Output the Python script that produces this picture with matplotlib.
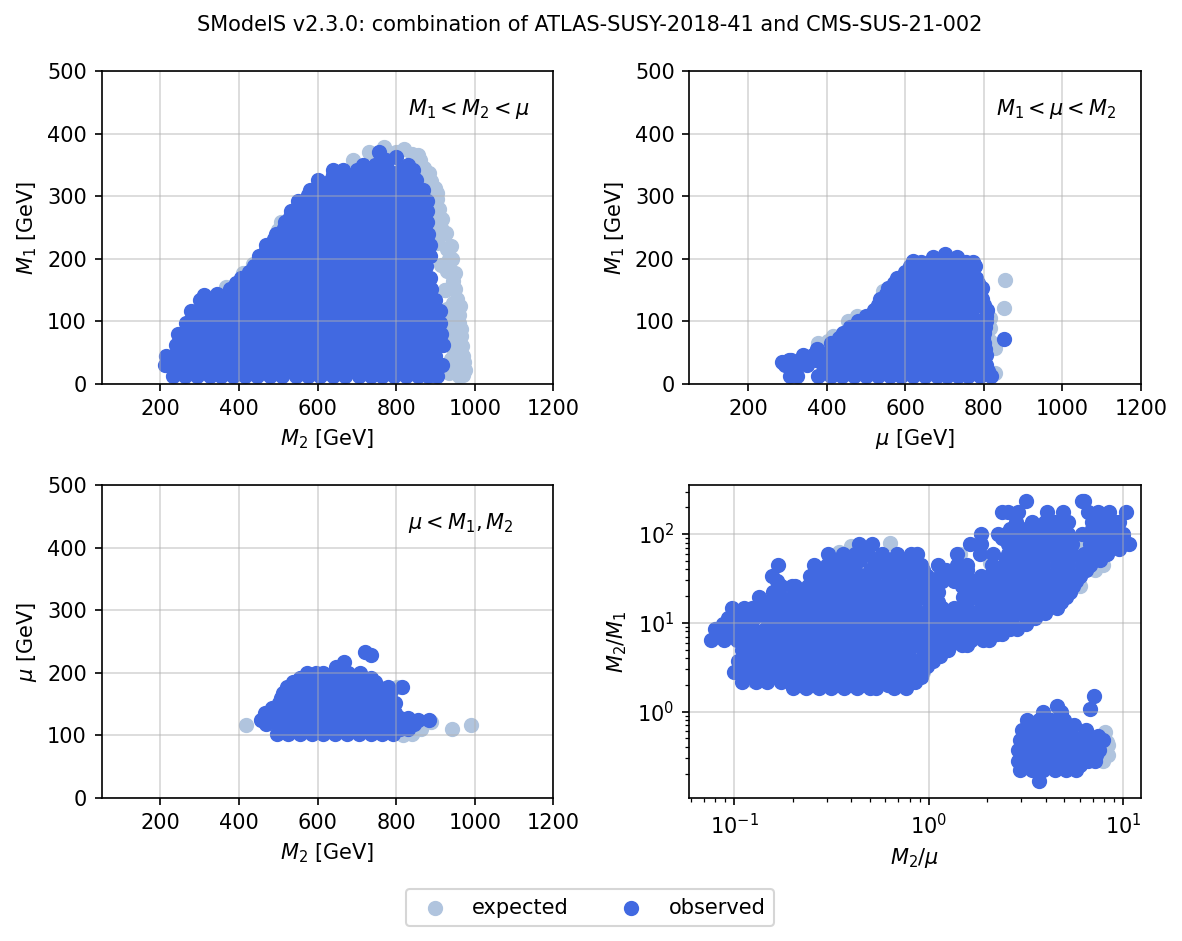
import matplotlib
matplotlib.use("Agg")
import matplotlib.pyplot as plt

TITLE = "SModelS v2.3.0: combination of ATLAS-SUSY-2018-41 and CMS-SUS-21-002"
LABELS = ["expected", "observed"]

# Panel A: M2 (x) against M1 (y), read row by row
a_obs_y = [12, 30, 45, 62, 80, 98, 116, 134, 152, 170, 188, 205, 222, 240, 258, 276, 293, 310, 326, 342, 350,
           21, 38, 54, 71, 89, 107, 125, 143, 161, 179, 196, 214, 231, 249, 267, 285, 302, 318, 334]
a_obs_x = [
    [232, 262, 292, 325, 355, 385, 415, 445, 478, 510, 545, 575, 605, 640, 670, 705, 735, 765, 795, 825, 855, 880, 905],
    [212, 245, 278, 310, 342, 375, 408, 440, 472, 505, 538, 570, 603, 635, 668, 700, 733, 765, 798, 830, 862, 893, 917],
    [215, 232, 262, 295, 328, 360, 392, 425, 458, 490, 522, 555, 588, 620, 652, 685, 718, 750, 782, 815, 848, 880, 900],
    [240, 272, 305, 338, 370, 402, 435, 468, 500, 532, 565, 598, 630, 662, 695, 728, 760, 792, 825, 858, 890, 920],
    [246, 280, 312, 345, 378, 410, 442, 475, 508, 540, 572, 605, 638, 670, 702, 735, 768, 800, 832, 865, 895, 915],
    [265, 295, 328, 360, 392, 425, 458, 490, 522, 555, 588, 620, 652, 685, 718, 750, 782, 815, 848, 880, 911],
    [278, 310, 342, 375, 408, 440, 472, 505, 538, 570, 602, 635, 668, 700, 732, 765, 798, 830, 862, 893, 911],
    [300, 312, 345, 378, 410, 442, 475, 508, 540, 572, 605, 638, 670, 702, 735, 768, 800, 832, 865, 900],
    [376, 408, 440, 472, 505, 538, 570, 602, 635, 668, 700, 732, 765, 798, 830, 862, 890],
    [405, 440, 472, 505, 538, 570, 602, 635, 668, 700, 732, 765, 798, 830, 862, 885],
    [438, 472, 505, 538, 570, 602, 635, 668, 700, 732, 765, 798, 830, 862, 877],
    [452, 488, 520, 552, 585, 618, 650, 682, 715, 748, 780, 812, 845, 885],
    [470, 505, 538, 570, 602, 635, 668, 700, 732, 765, 798, 830, 862, 885],
    [495, 520, 552, 585, 618, 650, 682, 715, 748, 780, 812, 845, 880],
    [518, 538, 570, 602, 635, 668, 700, 732, 765, 798, 830, 862, 879],
    [532, 552, 585, 618, 650, 682, 715, 748, 780, 812, 845, 879],
    [550, 570, 602, 635, 668, 700, 732, 765, 798, 830, 862, 879],
    [580, 618, 650, 682, 715, 748, 780, 812, 845, 868],
    [600, 635, 668, 700, 732, 765, 798, 830, 851],
    [640, 664, 700, 748, 780, 812, 842],
    [715, 745, 775, 830],
    [245, 277, 310, 342, 374, 406, 438, 470, 502, 534, 566, 598, 630, 662, 694, 726, 758, 790, 822, 854, 886],
    [228, 260, 292, 324, 356, 388, 420, 452, 484, 516, 548, 580, 612, 644, 676, 708, 740, 772, 804, 836, 868, 890],
    [250, 282, 314, 346, 378, 410, 442, 474, 506, 538, 570, 602, 634, 666, 698, 730, 762, 794, 826, 858, 890],
    [258, 290, 322, 354, 386, 418, 450, 482, 514, 546, 578, 610, 642, 674, 706, 738, 770, 802, 834, 866, 900],
    [270, 302, 334, 366, 398, 430, 462, 494, 526, 558, 590, 622, 654, 686, 718, 750, 782, 814, 846, 878, 900],
    [290, 322, 354, 386, 418, 450, 482, 514, 546, 578, 610, 642, 674, 706, 738, 770, 802, 834, 866, 900],
    [310, 342, 374, 406, 438, 470, 502, 534, 566, 598, 630, 662, 694, 726, 758, 790, 822, 854, 895],
    [345, 377, 409, 441, 473, 505, 537, 569, 601, 633, 665, 697, 729, 761, 793, 825, 857, 885],
    [392, 424, 456, 488, 520, 552, 584, 616, 648, 680, 712, 744, 776, 808, 840, 875],
    [425, 457, 489, 521, 553, 585, 617, 649, 681, 713, 745, 777, 809, 841, 870],
    [450, 482, 514, 546, 578, 610, 642, 674, 706, 738, 770, 802, 834, 870],
    [470, 502, 534, 566, 598, 630, 662, 694, 726, 758, 790, 822, 854, 870],
    [490, 522, 554, 586, 618, 650, 682, 714, 746, 778, 810, 842, 870],
    [515, 547, 579, 611, 643, 675, 707, 739, 771, 803, 835, 870],
    [530, 562, 594, 626, 658, 690, 722, 754, 786, 818, 850, 865],
    [550, 582, 614, 646, 678, 710, 742, 774, 806, 838, 865],
    [575, 607, 639, 671, 703, 735, 767, 799, 831, 845],
    [605, 637, 669, 701, 733, 765, 797, 829, 840],
    [640, 672, 704, 736, 768, 800, 830],
]
a_obs_top_x = [312, 757, 800, 775]
a_obs_top_y = [142, 371, 362, 358]

a_exp_x = [770, 731, 690, 819, 855, 862, 883, 900, 905, 917, 926, 939, 943, 950, 951, 962, 960, 964, 971, 970,
           367, 410, 435, 507, 499, 800, 840, 870, 880, 890, 905, 915, 925, 930, 935, 940, 945, 935, 950,
           925, 945, 955, 945, 960, 950, 965, 955, 968, 950, 972, 940, 975, 950, 960, 935, 930, 920, 910, 905, 890, 870, 840, 915, 930, 945, 925, 940]
a_exp_y = [379, 371, 358, 375, 366, 358, 337, 313, 295, 263, 241, 220, 199, 178, 151, 124, 98, 77, 45, 15,
           155, 177, 192, 259, 246, 370, 352, 320, 295, 260, 225, 190, 150, 120, 90, 60, 30, 18, 105,
           150, 165, 135, 110, 110, 85, 88, 68, 60, 50, 35, 40, 22, 25, 12, 200, 215, 240, 280, 305, 325, 345, 368, 250, 180, 130, 100, 75]

# Panel B: mu (x) against M1 (y)
b_obs_y = [12, 30, 47, 65, 82, 100, 118, 135, 153, 170, 188, 203,
           21, 38, 56, 73, 91, 109, 126, 144, 161, 179, 195]
b_obs_x = [
    [306, 325, 378, 410, 440, 470, 500, 530, 560, 590, 620, 650, 680, 705, 735, 760, 790, 818],
    [295, 325, 350, 390, 425, 455, 485, 515, 545, 575, 605, 635, 665, 695, 725, 755, 785, 805],
    [340, 365, 395, 410, 440, 470, 500, 530, 560, 590, 620, 650, 680, 710, 740, 770, 805],
    [412, 425, 455, 485, 515, 545, 575, 605, 635, 665, 695, 725, 755, 785, 800],
    [442, 470, 500, 530, 560, 590, 620, 650, 680, 710, 740, 770, 800],
    [480, 515, 545, 575, 605, 635, 665, 695, 725, 755, 785, 805],
    [520, 530, 560, 590, 620, 650, 680, 710, 740, 770, 809],
    [535, 575, 605, 635, 665, 695, 725, 755, 794],
    [556, 590, 620, 650, 680, 710, 740, 770, 794],
    [579, 605, 635, 665, 695, 725, 755, 780],
    [612, 650, 680, 710, 740, 777],
    [671, 732],
    [395, 425, 455, 485, 515, 545, 575, 605, 635, 665, 695, 725, 755, 785, 810],
    [378, 408, 438, 468, 498, 528, 558, 588, 618, 648, 678, 708, 738, 768, 798],
    [375, 410, 425, 455, 485, 515, 545, 575, 605, 635, 665, 695, 725, 755, 785, 802],
    [430, 440, 470, 500, 530, 560, 590, 620, 650, 680, 710, 740, 770, 798],
    [460, 485, 515, 545, 575, 605, 635, 665, 695, 725, 755, 785, 802],
    [500, 530, 560, 590, 620, 650, 680, 710, 740, 770, 805],
    [530, 545, 575, 605, 635, 665, 695, 725, 755, 785, 800],
    [550, 590, 620, 650, 680, 710, 740, 770, 790],
    [570, 605, 635, 665, 695, 725, 755, 785],
    [600, 620, 650, 680, 710, 740, 770],
    [620, 640, 665, 695, 725, 755, 772],
]
b_obs_extra_x = [287, 305, 310, 372, 620, 852, 700]
b_obs_extra_y = [35, 38, 38, 38, 196, 72, 208]

b_exp_x = [853, 852, 828, 828, 378, 476, 544, 815, 815, 454, 416, 756, 815, 392, 402]
b_exp_y = [166, 121, 57, 18, 65, 108, 148, 105, 89, 100, 76, 190, 68, 60, 68]

# Panel C: M2 (x) against mu (y)
c_obs_y = [103, 118, 125, 136, 152, 168, 178, 185, 200,
           110, 128, 144, 160, 176, 192]
c_obs_x = [
    [497, 525, 555, 585, 615, 645, 675, 705, 735, 765, 792],
    [470, 500, 530, 560, 590, 620, 650, 680, 710, 740, 770, 800, 826],
    [456, 856, 884],
    [466, 495, 525, 555, 585, 615, 645, 675, 705, 735, 765, 797],
    [503, 530, 560, 590, 620, 650, 680, 710, 740, 770, 797],
    [513, 545, 575, 605, 635, 665, 695, 725, 755, 785],
    [523, 780, 816],
    [538, 570, 600, 630, 660, 690, 720, 746],
    [572, 597, 614, 648, 678, 708],
    [510, 540, 570, 600, 630, 660, 690, 720, 750, 780, 810],
    [480, 510, 540, 570, 600, 630, 660, 690, 720, 750, 780, 810, 830],
    [485, 515, 545, 575, 605, 635, 665, 695, 725, 755, 785],
    [508, 530, 560, 590, 620, 650, 680, 710, 740, 770],
    [525, 550, 580, 610, 640, 670, 700, 730, 760],
    [555, 585, 615, 645, 675, 705, 735],
]
c_obs_extra_x = [668, 722, 735, 648, 830, 845]
c_obs_extra_y = [218, 234, 228, 210, 110, 118]

c_exp_x = [419, 942, 991, 801, 775, 818, 843, 864, 890, 840]
c_exp_y = [117, 111, 117, 177, 150, 100, 106, 110, 122, 103]

# Panel D: log10(M2/mu) (x) against log10(M2/M1) (y)
d_obs_logy = [0.27, 0.33, 0.45, 0.57, 0.69, 0.81, 0.93, 1.05, 1.17, 1.29, 1.41, 1.53, 1.65, 1.77, 1.89, 2.00, 2.13, 2.25,
              2.375, -0.78, -0.66, -0.55, -0.43, -0.32, -0.21, -0.09, 0.0, 0.06, 0.026, 0.176,
              0.30, 0.39, 0.51, 0.63, 0.75, 0.87, 0.99, 1.11, 1.23, 1.35, 1.47, 1.59, 1.71, 1.83, 1.95, 2.06,
              -0.60, -0.49, -0.38, -0.27, -0.15]
d_obs_logx = [
    [-0.695, -0.63, -0.565, -0.50, -0.435, -0.37, -0.30, -0.27, -0.18, -0.115],
    [-0.96, -0.89, -0.83, -0.76, -0.70, -0.63, -0.56, -0.50, -0.43, -0.36, -0.30, -0.23, -0.16, -0.10, -0.07],
    [-1.0, -0.93, -0.86, -0.80, -0.73, -0.66, -0.60, -0.53, -0.46, -0.40, -0.33, -0.26, -0.20, -0.13, -0.06, -0.035],
    [-0.98, -0.91, -0.84, -0.78, -0.71, -0.64, -0.58, -0.51, -0.44, -0.38, -0.31, -0.24, -0.18, -0.11, -0.05, 0.025],
    [-0.96, -0.90, -0.83, -0.76, -0.70, -0.63, -0.56, -0.50, -0.43, -0.36, -0.30, -0.23, -0.16, -0.10, -0.03, 0.03, 0.10],
    [-1.12, -1.05, -0.985, -0.92, -0.85, -0.78, -0.72, -0.65, -0.58, -0.52, -0.45, -0.38, -0.32, -0.25, -0.18, -0.12, -0.05, 0.02, 0.08, 0.15, 0.22, 0.28, 0.31],
    [-1.10, -1.03, -0.97, -0.905, -0.84, -0.77, -0.70, -0.64, -0.57, -0.50, -0.44, -0.37, -0.30, -0.24, -0.17, -0.10, -0.04, 0.03, 0.10, 0.16, 0.23, 0.30, 0.36, 0.42, 0.455],
    [-1.03, -0.96, -0.90, -0.83, -0.77, -0.70, -0.63, -0.57, -0.50, -0.43, -0.37, -0.30, -0.23, -0.17, -0.10, -0.03, 0.03, 0.10, 0.17, 0.23, 0.30, 0.37, 0.43, 0.50, 0.55],
    [-1.01, -0.95, -0.91, -0.87, -0.80, -0.73, -0.67, -0.60, -0.53, -0.47, -0.40, -0.33, -0.27, -0.20, -0.13, -0.07, 0.0, 0.07, 0.13, 0.20, 0.27, 0.33, 0.40, 0.47, 0.53, 0.60, 0.66],
    [-0.87, -0.80, -0.76, -0.70, -0.63, -0.57, -0.50, -0.43, -0.37, -0.30, -0.23, -0.17, -0.10, -0.03, 0.02, 0.18, 0.24, 0.30, 0.37, 0.43, 0.50, 0.57, 0.63, 0.71],
    [-0.76, -0.70, -0.685, -0.62, -0.55, -0.49, -0.42, -0.35, -0.29, -0.22, -0.15, -0.09, -0.02, 0.04, 0.17, 0.23, 0.30, 0.36, 0.43, 0.50, 0.56, 0.63, 0.70, 0.746],
    [-0.806, -0.61, -0.55, -0.48, -0.41, -0.35, -0.28, -0.21, -0.15, -0.08, -0.01, 0.06, 0.13, 0.20, 0.27, 0.34, 0.41, 0.47, 0.54, 0.61, 0.67, 0.74, 0.78],
    [-0.777, -0.59, -0.52, -0.46, -0.39, -0.28, -0.23, -0.16, -0.10, -0.04, 0.05, 0.146, 0.197, 0.326, 0.39, 0.46, 0.52, 0.59, 0.66, 0.72, 0.79, 0.83],
    [-0.515, -0.44, -0.38, -0.31, -0.24, -0.16, -0.09, -0.06, 0.146, 0.266, 0.334, 0.41, 0.47, 0.54, 0.61, 0.67, 0.74, 0.80, 0.86, 0.92],
    [-0.36, -0.29, 0.215, 0.27, 0.41, 0.47, 0.54, 0.61, 0.67, 0.74, 0.83, 0.88, 0.94, 1.0, 1.03],
    [0.27, 0.36, 0.40, 0.46, 0.52, 0.59, 0.66, 0.72, 0.79, 0.85, 0.91, 0.97, 1.0],
    [0.45, 0.53, 0.60, 0.65, 0.72, 0.84, 0.90, 0.96, 0.98],
    [0.38, 0.41, 0.46, 0.61, 0.69, 0.82, 0.87, 0.93, 1.015],
    [0.50, 0.80, 0.79],
    [0.566],
    [0.47, 0.53, 0.59, 0.65, 0.71, 0.76],
    [0.463, 0.52, 0.58, 0.64, 0.70, 0.76, 0.82, 0.857],
    [0.463, 0.53, 0.59, 0.65, 0.71, 0.77, 0.83, 0.875],
    [0.47, 0.52, 0.58, 0.64, 0.70, 0.76, 0.82, 0.897],
    [0.48, 0.54, 0.60, 0.66, 0.72, 0.81],
    [0.506, 0.57, 0.63, 0.695],
    [0.59, 0.68],
    [0.66],
    [0.832],
    [0.854],
    [-0.66, -0.60, -0.53, -0.47, -0.40, -0.34, -0.27, -0.21, -0.14],
    [-0.94, -0.87, -0.81, -0.74, -0.68, -0.61, -0.55, -0.48, -0.42, -0.35, -0.29, -0.22, -0.16, -0.09, -0.04],
    [-0.97, -0.90, -0.83, -0.77, -0.70, -0.64, -0.57, -0.51, -0.44, -0.38, -0.31, -0.25, -0.18, -0.12, -0.05, -0.01],
    [-0.95, -0.88, -0.81, -0.75, -0.68, -0.62, -0.55, -0.49, -0.42, -0.36, -0.29, -0.23, -0.16, -0.10, -0.03, 0.02, 0.06],
    [-0.94, -0.87, -0.80, -0.74, -0.67, -0.61, -0.54, -0.48, -0.41, -0.35, -0.28, -0.22, -0.15, -0.09, -0.02, 0.04, 0.11, 0.17, 0.20],
    [-1.08, -1.02, -0.95, -0.88, -0.82, -0.75, -0.69, -0.62, -0.56, -0.49, -0.43, -0.36, -0.30, -0.23, -0.17, -0.10, -0.04, 0.03, 0.09, 0.16, 0.22, 0.29, 0.35, 0.38],
    [-1.06, -1.0, -0.94, -0.80, -0.74, -0.67, -0.61, -0.54, -0.48, -0.41, -0.35, -0.28, -0.22, -0.15, -0.09, -0.02, 0.04, 0.11, 0.17, 0.24, 0.30, 0.37, 0.43, 0.50],
    [-1.0, -0.94, -0.86, -0.79, -0.73, -0.66, -0.60, -0.53, -0.47, -0.40, -0.34, -0.27, -0.21, -0.14, -0.08, -0.01, 0.05, 0.12, 0.18, 0.25, 0.31, 0.38, 0.44, 0.51, 0.57, 0.60],
    [-0.85, -0.78, -0.72, -0.65, -0.59, -0.52, -0.46, -0.39, -0.33, -0.26, -0.20, -0.13, -0.07, 0.0, 0.05, 0.2, 0.27, 0.33, 0.40, 0.46, 0.53, 0.59, 0.66, 0.68],
    [-0.80, -0.66, -0.60, -0.53, -0.47, -0.40, -0.34, -0.27, -0.21, -0.14, -0.08, -0.01, 0.05, 0.19, 0.26, 0.32, 0.39, 0.45, 0.52, 0.58, 0.65, 0.71, 0.73],
    [-0.78, -0.60, -0.54, -0.47, -0.41, -0.34, -0.28, -0.21, -0.15, -0.08, -0.03, 0.07, 0.13, 0.19, 0.25, 0.32, 0.38, 0.45, 0.51, 0.58, 0.64, 0.71, 0.76],
    [-0.58, -0.51, -0.45, -0.38, -0.30, -0.25, -0.19, -0.12, -0.06, -0.03, 0.09, 0.15, 0.20, 0.33, 0.40, 0.46, 0.53, 0.59, 0.66, 0.72, 0.79, 0.81],
    [-0.50, -0.42, -0.35, -0.27, -0.20, -0.13, -0.07, 0.40, 0.46, 0.53, 0.59, 0.66, 0.72, 0.79, 0.85, 0.88],
    [-0.33, 0.42, 0.48, 0.55, 0.61, 0.68, 0.73, 0.85, 0.92, 0.98],
    [0.38, 0.44, 0.50, 0.57, 0.63, 0.70, 0.72, 0.84, 0.90, 0.96, 1.0],
    [0.42, 0.48, 0.55, 0.62, 0.68, 0.70, 0.84, 0.90, 0.96],
    [0.49, 0.55, 0.61, 0.67, 0.73, 0.78],
    [0.50, 0.56, 0.62, 0.68, 0.74, 0.80, 0.86],
    [0.50, 0.56, 0.62, 0.68, 0.74, 0.80, 0.87],
    [0.50, 0.56, 0.62, 0.68, 0.74, 0.80, 0.87],
    [0.52, 0.58, 0.64, 0.70, 0.75],
]
d_exp_logx = [-0.197, -0.06, -0.36, -0.40, -0.46, 0.78, 0.90, 0.858, 0.77, 0.163, 0.317, -0.026, -0.206, -0.91,
              0.909, 0.918, 0.926, 0.926, 0.90]
d_exp_logy = [1.895, 1.78, 1.88, 1.86, 1.80, 1.41, 1.65, 1.60, 1.86, 1.78, 1.67, 0.45, 0.30, 0.36,
              -0.225, -0.338, -0.375, -0.488, -0.56]

GREY = "lightsteelblue"
BLUE = "royalblue"
SIZE = 40


def flatten(ys, xrows):
    xs_out, ys_out = [], []
    for y, row in zip(ys, xrows):
        for x in row:
            xs_out.append(x)
            ys_out.append(y)
    return xs_out, ys_out


ax_x, ax_y = flatten(a_obs_y, a_obs_x)
ax_x += a_obs_top_x
ax_y += a_obs_top_y
bx_x, bx_y = flatten(b_obs_y, b_obs_x)
bx_x += b_obs_extra_x
bx_y += b_obs_extra_y
cx_x, cx_y = flatten(c_obs_y, c_obs_x)
cx_x += c_obs_extra_x
cx_y += c_obs_extra_y
dx_lx, dx_ly = flatten(d_obs_logy, d_obs_logx)
dx_x = [10 ** v for v in dx_lx]
dx_y = [10 ** v for v in dx_ly]
de_x = [10 ** v for v in d_exp_logx]
de_y = [10 ** v for v in d_exp_logy]

fig, axes = plt.subplots(2, 2, figsize=(7.88, 941 / 150), dpi=150)
fig.subplots_adjust(left=101.5 / 1182, right=1141 / 1182, top=1 - 71 / 941, bottom=1 - 798 / 941,
                    wspace=136 / 452, hspace=101 / 313)

panels = [
    (axes[0, 0], a_exp_x, a_exp_y, ax_x, ax_y, r"$M_2$ [GeV]", r"$M_1$ [GeV]", r"$M_1 < M_2 < \mu$"),
    (axes[0, 1], b_exp_x, b_exp_y, bx_x, bx_y, r"$\mu$ [GeV]", r"$M_1$ [GeV]", r"$M_1 < \mu < M_2$"),
    (axes[1, 0], c_exp_x, c_exp_y, cx_x, cx_y, r"$M_2$ [GeV]", r"$\mu$ [GeV]", r"$\mu < M_1, M_2$"),
]
for ax, ex, ey, ox, oy, xl, yl, note in panels:
    ax.scatter(ex, ey, s=SIZE, c=GREY, label=LABELS[0])
    ax.scatter(ox, oy, s=SIZE, c=BLUE, label=LABELS[1])
    ax.set_xlim(50, 1200)
    ax.set_ylim(0, 500)
    ax.set_xticks([200, 400, 600, 800, 1000, 1200])
    ax.set_yticks([0, 100, 200, 300, 400, 500])
    ax.set_xlabel(xl)
    ax.set_ylabel(yl)
    ax.grid(True, alpha=0.5)
    ax.text(830, 420, note, fontsize=10, va="bottom")

ax = axes[1, 1]
ax.scatter(de_x, de_y, s=SIZE, c=GREY)
ax.scatter(dx_x, dx_y, s=SIZE, c=BLUE)
ax.set_xscale("log")
ax.set_yscale("log")
ax.set_xlim(0.0587, 12.4)
ax.set_ylim(0.1067, 356)
ax.set_xlabel(r"$M_2/\mu$")
ax.set_ylabel(r"$M_2/M_1$")
ax.grid(True, alpha=0.5)

fig.suptitle(TITLE, fontsize=10, x=0.499, y=1 - 25 / 941, va="center")
handles, labels = axes[0, 0].get_legend_handles_labels()
fig.legend(handles, labels, loc="center", bbox_to_anchor=(0.499, 1 - 907.5 / 941), ncol=2)
fig.savefig("out.png", dpi=150)
